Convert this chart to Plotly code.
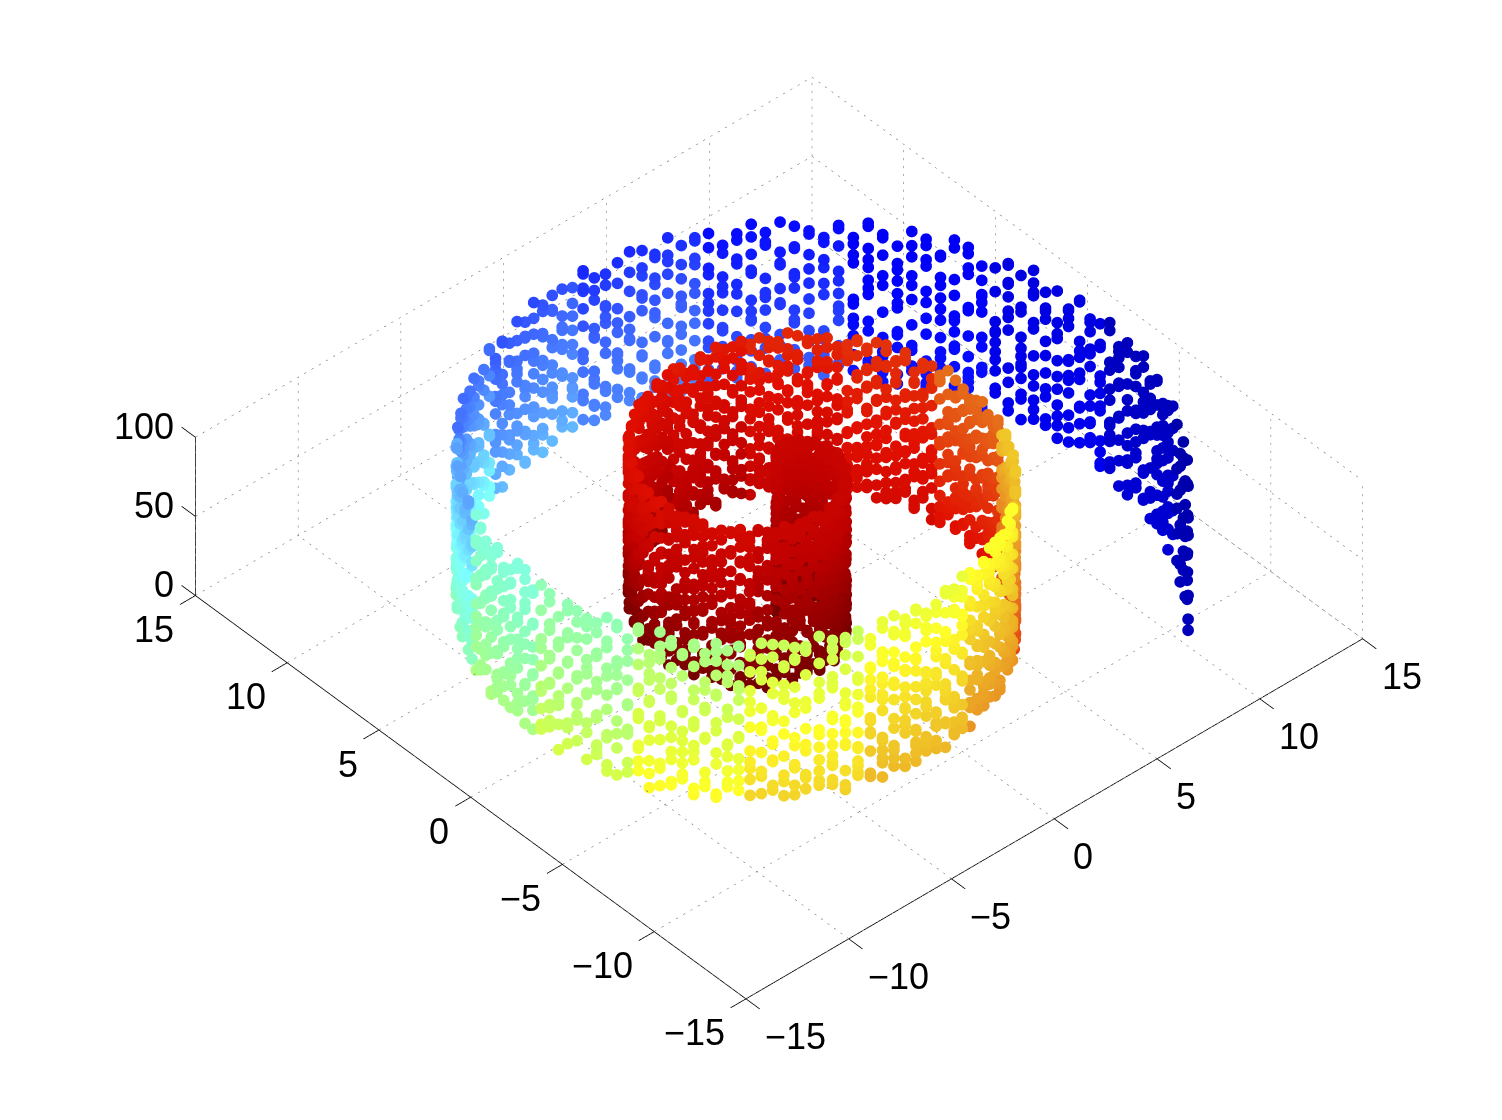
import plotly.graph_objects as go

# Positions of point columns along the roll (inner turn to outer end)
ROLL_X = [
.01,.03,.07,.12,.18,.25,.32,.41,.51,.61,.71,.82,.93,1.03,1.14,1.25,1.34,1.44,1.52,1.59,
1.66,1.71,1.74,1.77,1.77,1.76,1.72,1.67,1.61,1.52,1.41,1.28,1.14,.97,.79,.59,.37,.14,-.11,-.37,
-.64,-.91,-1.2,-1.49,-1.78,-2.07,-2.35,-2.64,-2.91,-3.18,-3.42,-3.66,-3.88,-4.08,-4.26,-4.41,-4.54,-4.64,-4.71,-4.75,
-4.76,-4.73,-4.67,-4.58,-4.45,-4.28,-4.08,-3.85,-3.58,-3.28,-2.95,-2.59,-2.2,-1.78,-1.34,
-1.06,-.77,-.47,-.16,.15,.47,.79,1.11,1.43,1.76,2.08,2.41,2.74,3.06,3.38,3.69,4.0,4.31,4.6,4.89,
5.17,5.45,5.71,5.95,6.19,6.42,6.63,6.82,7.0,7.17,7.32,7.46,7.57,7.66,7.74,7.8,7.84,7.86,7.86,7.83,
7.79,7.73,7.64,7.54,7.42,7.27,7.11,6.92,6.71,6.49,6.24,5.98,5.69,5.39,5.07,4.73,4.38,4.01,3.63,3.24,
2.83,2.41,1.98,1.54,1.08,.62,.17,-.3,-.77,-1.25,-1.73,-2.21,-2.68,-3.16,-3.64,-4.11,-4.57,-5.02,-5.47,-5.91,
-6.25,-6.58,-6.91,-7.23,-7.54,-7.84,-8.13,-8.41,-8.67,-8.92,-9.17,-9.4,-9.62,-9.81,-10.0,-10.17,-10.33,-10.46,-10.59,-10.69,
-10.79,-10.86,-10.92,-10.96,-10.98,-10.98,-10.97,-10.94,-10.89,-10.82,-10.73,-10.63,-10.51,-10.37,-10.21,-10.03,-9.84,-9.63,-9.4,-9.16,
-8.9,-8.62,-8.32,-8.02,-7.69,-7.35,-7.0,-6.63,-6.25,-5.86,-5.45,-5.04,-4.61,-4.16,-3.71,-3.26,-2.79,-2.32,-1.84,-1.35,
-.86,-.36,.14,.64,1.15,1.65,2.16,2.66,3.17,3.67,4.17,4.67,5.16,5.65,6.13,6.6,7.07,7.53,7.98,8.41,
8.84,9.25,9.65,10.04,10.42,10.78,11.13,11.45,11.77,12.06,12.34,12.6,12.84,13.06,13.26,13.44,13.6,13.74,13.86,13.96,
14.03,14.08,14.12,14.12,14.1,14.05,13.99,13.9,13.8,13.67,13.52,13.34,13.14,12.91,12.67,12.4,12.11,11.81,11.47,11.13,
10.74,10.36,10.17]
ROLL_Y = [
.08,.16,.23,.3,.36,.41,.46,.49,.51,.52,.52,.5,.47,.43,.37,.3,.21,.11,-.01,-.14,
-.28,-.43,-.59,-.76,-.93,-1.12,-1.3,-1.49,-1.68,-1.86,-2.04,-2.21,-2.38,-2.54,-2.69,-2.82,-2.94,-3.04,-3.12,-3.18,
-3.22,-3.23,-3.22,-3.19,-3.13,-3.04,-2.93,-2.79,-2.62,-2.42,-2.22,-1.98,-1.71,-1.42,-1.11,-.78,-.44,-.07,.31,.69,
1.09,1.49,1.9,2.29,2.69,3.09,3.47,3.85,4.2,4.54,4.86,5.14,5.41,5.64,5.85,
5.96,6.05,6.13,6.2,6.25,6.28,6.3,6.3,6.29,6.26,6.21,6.15,6.06,5.96,5.85,5.71,5.56,5.39,5.21,5.01,
4.79,4.56,4.31,4.05,3.77,3.48,3.18,2.86,2.53,2.2,1.84,1.48,1.12,.75,.36,-.02,-.42,-.81,-1.22,-1.62,
-2.01,-2.41,-2.82,-3.22,-3.61,-4.0,-4.38,-4.76,-5.13,-5.49,-5.85,-6.18,-6.51,-6.83,-7.13,-7.42,-7.69,-7.95,-8.18,-8.4,
-8.6,-8.77,-8.93,-9.07,-9.19,-9.28,-9.35,-9.4,-9.42,-9.41,-9.39,-9.34,-9.26,-9.17,-9.05,-8.9,-8.73,-8.53,-8.31,-8.07,
-7.85,-7.63,-7.39,-7.13,-6.86,-6.58,-6.29,-5.99,-5.67,-5.34,-5.0,-4.65,-4.28,-3.91,-3.53,-3.13,-2.73,-2.33,-1.92,-1.49,
-1.07,-.64,-.21,.23,.67,1.12,1.56,2.0,2.44,2.89,3.34,3.78,4.21,4.65,5.07,5.5,5.91,6.32,6.73,7.12,
7.51,7.88,8.25,8.61,8.94,9.28,9.6,9.91,10.2,10.48,10.74,10.98,11.21,11.43,11.63,11.8,11.96,12.1,12.22,12.33,
12.41,12.48,12.52,12.54,12.55,12.53,12.49,12.44,12.36,12.26,12.14,12.0,11.85,11.66,11.46,11.24,11.0,10.74,10.46,10.17,
9.85,9.53,9.18,8.81,8.43,8.03,7.61,7.18,6.74,6.28,5.81,5.32,4.83,4.32,3.81,3.28,2.75,2.21,1.66,1.12,
.56,0,-.56,-1.13,-1.7,-2.28,-2.84,-3.41,-3.98,-4.54,-5.08,-5.65,-6.19,-6.73,-7.26,-7.79,-8.29,-8.8,-9.28,-9.77,
-10.22,-10.68,-10.89]

# Colour read at the foot and at the top of the band, one pair for every ten columns (0 = dark blue, 1 = dark red)
COLOR_FOOT = [1,1,1,1,1,1,1,.985,.96,.93,.9,.88,.82,.74,.7,.67,.63,.58,.53,.47,.4,.31,.25,.2,.14,.11,.08,.05]
COLOR_TOP = [.92,.92,.92,.92,.92,.9,.88,.875,.865,.85,.84,.78,.68,.62,.6,.56,.52,.47,.42,.28,.21,.18,.155,.13,.115,.09,.05,.03]

# Heights of the points in each column
HEIGHTS = [
[3,14,27,36,52,61,73,88,99],[7,19,31,44,55,68,79,91,100],[1,12,24,39,47,63,70,84,97],[5,16,29,41,58,66,77,89,98],[9,21,33,46,53,65,81,93,100],
[2,11,25,37,50,62,75,86,96],[6,18,30,43,57,69,78,90,99],[0,13,28,35,49,60,74,85,95],[8,20,32,45,56,67,80,92,100],[4,15,26,40,51,64,72,87,98],
[3,17,23,38,54,59,76,83,97],[10,22,34,42,48,71,82,94,100],[1,14,27,39,55,63,73,88,96],[6,19,30,47,52,68,77,91,99],[2,12,25,36,58,61,79,85,98],
[9,16,31,44,50,66,74,90,100],[5,21,28,41,57,69,82,86,95],[0,11,33,37,53,65,78,93,99],[7,18,24,46,56,62,75,89,97],[3,15,29,43,49,70,81,84,100],
[8,20,35,40,60,67,72,92,98],[1,13,26,38,54,64,80,87,96],[4,17,32,45,51,59,76,91,100],[10,22,27,42,55,71,83,94,97],[2,14,30,36,48,63,77,88,99],
[6,19,25,47,58,68,73,85,95],[0,12,34,39,52,61,79,90,100],[9,16,28,44,56,66,82,86,98],[3,21,31,37,50,69,74,93,96],[5,11,24,43,57,62,78,89,99],
[7,18,33,41,53,65,81,84,100],[1,15,29,46,49,60,75,92,97],[8,20,26,35,59,67,72,87,95],[4,13,32,40,54,70,83,91,99],[2,17,23,45,51,64,76,94,100],
[10,22,30,38,55,63,80,85,98],[6,14,27,42,48,68,77,88,96],
[3,19,31,36,58,61,74,90,100],[0,12,25,44,52,66,79,86,97],[9,16,34,39,56,69,82,93,99],[5,21,28,47,50,62,73,89,95],[1,11,33,41,57,65,78,84,98],
[7,18,24,37,53,71,75,92,100],[4,15,29,43,60,67,81,87,96],[8,20,35,46,49,59,76,91,99],[2,13,26,40,54,64,83,94,97],[10,17,32,45,51,70,72,85,100],
[6,22,27,38,55,63,80,88,95],[0,14,30,42,58,68,77,90,98],[3,19,25,36,48,61,74,86,99],[9,12,34,47,52,66,82,93,96],[5,16,28,39,56,69,79,89,100],
[1,21,31,44,50,62,73,84,97],[7,11,33,41,57,65,78,92,98],[4,18,24,37,53,71,75,87,95],[8,15,29,46,60,67,81,91,99],[2,20,35,43,49,59,76,94,100],
[10,13,26,40,54,64,83,85,96],[6,17,32,45,51,70,72,88,97],[0,22,27,38,55,63,80,90,99],[3,14,30,42,58,68,77,86,100],[9,19,25,36,48,61,74,93,95],
[5,12,34,47,52,66,82,89,98],[1,16,28,39,56,69,79,84,96],[7,21,31,44,50,62,73,92,100],[4,11,33,41,57,65,78,87,97],[8,18,24,37,53,71,75,91,99],
[2,15,29,46,60,67,81,94,95],[10,20,35,43,49,59,76,85,98],[6,13,26,40,54,64,83,88,100],[0,17,32,45,51,70,72,90,96],[3,22,27,38,55,63,80,86,97],
[9,14,30,42,58,68,77,93,99],[5,19,25,36,48,61,74,89,100],
[12,27,41,58,72,93,5],[3,19,36,49,66,84,97],[8,24,44,55,77,90,14],[1,31,47,63,71,88,99],[16,28,39,60,82,95,6],[10,22,52,68,75,91,35],[4,18,43,57,79,86,100],[13,33,50,65,74,96,25],
[7,21,38,54,69,83,92],[2,29,46,61,78,89,15],[11,34,53,67,80,98,23],[6,26,42,59,73,87,17],[0,32,48,64,76,94,20],[9,37,51,62,85,97,30],[5,24,40,56,70,90,13],[18,35,45,60,81,99,3],
[1,27,49,66,77,93,10],[12,22,43,58,72,88,31],[7,16,39,55,83,96,28],[4,36,52,68,75,91,19],[14,25,47,63,79,100,8],[2,33,41,57,69,86,23],[11,30,54,65,74,95,17],[6,20,44,61,82,89,37],
[0,26,50,67,78,97,15],[9,34,46,59,71,92,21],[3,29,38,53,84,90,13],[16,24,42,64,76,98,5],[8,32,56,70,80,94,27],[1,19,48,62,73,87,35],[12,28,40,55,85,99,6],[4,22,51,66,77,91,31],
[10,36,45,60,72,96,18],[7,25,43,57,81,88,2],[14,33,49,68,75,93,23],[0,20,39,54,83,97,29],[5,27,52,63,79,90,11],[13,34,47,58,69,100,17],[3,21,41,65,74,86,37],[9,30,55,61,82,95,24],
[6,16,44,67,78,92,1],[15,28,38,59,71,89,32],[2,23,50,64,85,98,12],[8,35,46,56,76,94,19],[4,26,53,70,80,91,10],[11,31,42,62,73,97,22],[0,18,48,60,84,87,36],[7,29,40,66,77,99,14],
[13,24,51,57,69,93,3],[5,33,45,68,83,90,20],[1,27,54,63,75,96,9],[17,30,39,61,81,88,25],[6,22,49,58,72,100,12],[10,34,43,65,79,92,2],[3,19,52,55,86,97,28],[15,37,47,60,74,89,8],
[0,25,41,67,78,95,21],[9,31,56,62,71,91,16],[4,28,44,70,82,98,11],[12,20,50,59,76,87,33],[7,36,38,64,84,93,1],[2,23,46,53,73,99,18],[14,32,55,66,80,90,26],[5,17,42,61,69,96,10],
[8,29,48,57,85,88,35],[1,24,40,68,77,94,13],[11,34,52,63,75,100,4],[6,21,45,60,83,91,27],[16,30,37,56,72,97,0],[3,26,51,65,79,89,19],[9,33,43,54,81,92,14],[12,22,49,67,74,98,7],
[2,28,39,62,86,95,31],[15,35,47,58,70,90,5],[10,18,53,64,78,99,24],[4,32,41,59,73,87,20],[7,25,50,69,82,93,13],[0,36,44,55,76,96,29],[17,23,46,66,84,91,8],[6,30,38,61,71,100,15],
[43,12,77,29,95,60],[8,54,33,88,21,70],[66,2,41,97,15,83],[25,74,50,9,90,37],[58,18,81,46,99,4],[31,69,13,92,56,24],[85,40,6,72,19,63],[11,94,35,78,52,27],[48,3,65,87,22,98],
[73,16,57,38,91,7],[28,82,44,1,67,96],[53,20,89,34,75,10],[61,5,42,93,26,79],[14,71,47,100,32,86],[39,55,0,84,17,68],[76,23,59,9,97,45],[30,90,12,64,49,83],[2,74,36,95,19,56],
[80,25,6,62,41,99],[15,51,87,33,72,11],[46,93,21,67,4,58],[78,37,13,88,54,26],[8,60,96,43,18,75],[29,69,1,85,50,35],[91,16,57,24,77,40],[10,63,98,31,47,82],[55,22,70,3,89,38],
[17,79,44,94,27,61],[66,7,52,34,100,12],[84,30,19,73,48,92],[39,58,5,86,23,68],[76,14,45,97,32,9],[53,81,26,62,0,90],[20,71,41,87,11,56],[95,36,65,6,49,78],[28,83,16,59,99,43],
[3,74,33,91,21,64],[51,13,80,38,96,25],[69,47,8,88,18,57],[31,93,60,2,75,42],[85,24,54,15,98,35],[10,67,40,82,29,72],[50,4,94,22,63,78],[37,89,12,56,100,27],[70,19,46,83,6,61],
[92,34,1,74,52,16],[44,86,28,66,9,97],[23,58,79,39,13,90],[5,71,48,95,32,62],[81,17,55,26,99,41],[36,68,11,87,47,7],[60,93,20,76,3,53],[14,42,84,30,73,96],[65,25,50,89,10,38],
[78,0,57,33,91,18],[45,98,22,69,12,82],[29,61,6,85,40,75],[54,15,94,35,67,2],[88,27,49,8,77,43],[19,72,59,97,31,64],[37,83,4,52,23,92],[11,68,46,100,28,80],[56,16,90,39,74,1],
[63,34,21,86,47,96],[9,79,41,58,13,70],[30,93,5,66,51,24],[87,18,76,44,98,36],[2,60,28,84,55,12],[71,48,91,20,64,7],[33,82,15,57,38,95],[25,99,50,74,10,43],[67,4,86,31,59,17],
[52,77,22,92,40,8],[13,65,35,89,46,100],[81,27,56,1,72,37],[19,94,42,61,6,83],[75,11,53,29,97,48],[34,68,16,88,24,58],[90,3,45,78,14,62],[26,70,99,39,51,9],[55,85,20,33,93,44],
[12,47,73,5,80,28],[64,96,37,18,57,83],[41,8,69,91,23,50],[75,30,2,60,86,15],[97,43,54,21,68,10],[35,79,26,90,6,48],[59,13,84,38,72,100],[17,62,45,94,29,1],[77,32,52,7,88,66],
[24,99,40,11,71,56],[83,19,63,46,3,92],[36,74,14,87,27,54],[5,49,95,31,65,20],[58,81,9,42,98,16],[70,25,38,89,0,60],[12,91,51,76,33,44],[85,22,67,4,55,96],[28,73,15,47,93,37],
[6,63,84,34,100,18],[50,29,78,10,59,90],[41,95,23,68,2,75],[13,56,88,35,46,82],[66,8,31,97,20,52],[89,43,72,16,61,26],[3,80,38,93,49,12],[57,24,99,69,7,36],[44,86,17,64,30,76],
[21,54,91,1,71,40],[94,33,11,83,48,60],[9,67,28,77,53,100],
[35,72,16,58,90,3],[47,81,24,62,6,97],[13,68,39,88,52,20],[76,2,44,93,29,60],[18,55,85,33,71,99],[41,8,66,25,94,50],[82,37,12,59,1,74],[27,96,48,15,69,86],[63,5,31,91,43,78],[10,53,83,22,98,38],[70,19,46,89,34,57],[4,64,26,95,75,11]]

# Further heights for the columns from the inner wall outward
MORE_HEIGHTS = [
[23,67,8,91,44,15,78,33,56],[71,29,94,6,50,38,83,17,62],[12,59,87,35,4,76,47,98,26],[65,20,41,92,9,54,80,31,72],[37,85,13,60,96,27,49,2,74],
[90,18,56,7,43,69,34,81,24],[48,77,10,63,99,30,15,86,52],[5,38,70,22,94,57,42,12,83],[61,26,91,46,3,75,33,19,67],[79,14,53,87,36,8,60,95,28],
[41,72,20,97,55,11,84,32,66],[16,49,88,6,74,39,93,25,58],[82,30,64,13,45,100,21,70,37],[54,9,77,34,89,18,61,2,43],[26,95,47,68,15,80,52,33,7],
[73,40,11,86,59,23,98,36,64],[19,56,92,29,4,71,46,83,12],[67,35,78,8,50,94,24,60,39],[44,14,85,31,97,62,17,75,53],[3,69,27,90,42,10,81,56,34],
[58,88,22,47,72,6,37,99,15],[93,32,65,13,51,76,28,84,41],[20,61,9,79,43,95,55,25,70],[38,86,17,54,2,67,31,91,48],[74,12,45,96,27,59,83,7,36],
[50,23,89,64,34,11,77,42,98],[16,71,39,5,92,56,29,85,62],[80,47,13,68,33,100,21,52,8],[28,94,58,37,75,18,44,87,3],[63,10,82,25,49,90,35,66,14],
[41,97,30,72,6,55,84,19,60],[11,53,76,40,88,24,67,32,93],[86,35,2,62,46,15,78,99,27],[57,21,91,9,70,38,51,83,13],[33,74,44,96,18,65,4,59,87],
[7,48,81,26,63,92,36,12,69],[95,17,54,39,77,29,85,43,1],[68,31,10,89,52,22,73,46,97],
[28,64,9,85,41,73,17,56,94,33],[76,2,50,21,91,37,68,12,83],[44,97,14,60,30,79,6,53,25],[88,39,71,18,47,3,62,95,34],[10,57,26,82,65,23,99,42,75],
[51,16,93,36,7,69,29,87,58],[20,78,45,98,11,61,32,84,4],[67,38,15,90,54,27,74,48,9],[92,24,59,1,80,35,64,13,46],[30,72,5,86,43,19,96,55,37],
[63,12,49,77,28,94,8,70,40],[17,83,33,56,100,22,66,44,2],[75,47,10,89,60,31,15,91,52],[6,38,68,25,97,53,79,20,42],[85,14,58,35,71,3,62,28,93],
[49,74,19,96,41,11,81,55,30],[23,66,88,7,52,36,99,16,77],[92,43,13,61,29,73,4,47,84],[34,59,21,95,69,10,39,80,18],[56,1,76,45,86,26,64,33,90],
[12,71,37,54,8,98,24,83,48],[67,31,93,16,62,42,75,5,27],[89,50,20,78,35,13,57,96,40],[3,44,82,29,68,91,15,60,36],[72,25,55,10,87,47,2,79,33],
[18,94,39,65,23,51,85,7,58],[43,13,74,30,97,61,28,88,11],[81,54,6,69,38,16,92,46,21],[26,63,99,34,75,9,50,84,41],[57,19,86,2,45,71,31,95,66],
[37,90,14,60,24,78,52,8,83],[70,28,47,93,12,56,35,98,17],[4,65,82,40,73,22,88,49,30],[53,11,77,36,96,61,15,68,25],[32,89,44,7,58,84,20,72,43],
[94,18,63,27,50,1,79,38,91],[13,55,85,33,66,100,42,9,74],[76,29,46,97,16,59,23,87,5],[40,70,10,81,35,92,54,19,64],[24,48,90,3,62,77,31,56,86],
[60,15,73,39,95,28,83,45,8],[34,88,21,52,11,68,98,37,75],[6,43,79,26,91,57,17,65,49],[82,30,13,71,47,2,86,58,22],[99,36,54,19,76,41,63,10,93],
[27,67,4,85,33,51,94,14,72],[46,20,89,60,8,78,38,97,29],[55,74,12,42,96,25,69,3,83],[16,35,91,64,23,80,50,7,44],[71,9,57,28,87,39,100,18,62],
[32,84,47,1,73,56,21,93,37],[65,13,78,41,98,26,52,88,5],[20,59,34,90,11,70,44,76,30],[83,48,6,63,22,95,36,15,68],[2,75,53,29,86,40,61,92,17],
[58,24,81,12,45,67,33,96,9],[38,72,19,99,51,4,84,27,64],[90,43,15,60,31,77,8,55,25],[11,69,87,36,74,21,49,94,42],[52,3,28,82,16,63,39,79,97],
[35,93,57,10,46,71,23,86,61],[77,18,66,41,100,29,6,54,85],[44,88,13,33,75,50,95,20,68],[7,60,26,92,38,83,14,47,72],[62,30,80,1,56,24,98,42,16],
[87,37,51,19,69,9,76,34,91],[22,64,96,45,12,58,28,81,4],[73,40,15,85,31,53,67,99,35],[49,8,79,25,94,17,61,43,70],[27,90,55,36,5,83,48,11,74],
[66,21,41,89,14,97,32,59,2],[84,52,7,71,38,23,63,92,46],[18,35,77,10,56,88,29,68,100],[60,95,26,43,80,1,50,13,74],[31,6,65,87,20,54,39,91,72],
[47,82,16,58,34,98,24,9,67],[3,76,42,93,28,61,12,85,53],[69,19,37,90,48,5,73,30,96],
[22,64,9,83,41,71],[56,14,92,33,77,5],[38,87,19,60,2,95],[72,27,49,11,84,63],[6,53,98,35,67,24],[89,15,44,76,30,58],[20,62,3,91,46,81],[51,97,26,70,12,39],[85,8,57,34,74,18],
[43,66,1,93,29,78],[16,55,86,37,10,68],[94,23,47,61,5,32],[75,40,13,88,52,27],[7,69,35,96,59,21],[83,44,17,64,3,91],[30,72,54,9,79,38],[61,15,99,42,25,86],[48,6,76,33,90,12],
[65,28,57,97,19,71],[2,84,41,23,67,50],[93,35,10,74,56,16],[45,80,27,62,4,88],[13,52,95,36,70,29],[78,21,43,8,59,92],[31,66,85,17,49,1],[96,39,12,73,55,26],[58,7,82,34,64,20],
[24,91,47,15,69,37],[75,3,53,86,28,100],[10,63,40,97,18,46],[83,25,68,5,56,33],[42,89,14,77,60,22],[6,51,94,30,71,17],[65,36,2,87,44,79],[27,58,92,11,38,74],[84,19,48,66,9,96],
[35,70,23,55,1,81],[13,62,88,41,76,29],[98,4,50,32,67,16],[59,85,21,45,8,72],[37,93,11,63,26,54],[78,17,43,90,3,68],[24,56,83,34,99,10],[47,69,6,75,20,91],[31,86,52,14,60,39],
[95,25,72,2,44,57],[12,65,36,89,18,80],[51,7,97,28,73,41],[84,33,61,15,49,22],[4,77,42,92,55,30],[68,19,87,38,10,63],[26,54,1,79,46,94],[71,35,13,58,83,23],[40,96,66,9,29,52],
[17,74,48,86,5,62],[91,32,20,56,78,37],[44,69,11,99,27,6],[81,15,53,35,64,88],[24,60,93,42,2,73],[57,8,30,76,49,18],[97,39,67,13,85,28],[3,50,82,21,71,45],[63,34,90,16,55,7],
[76,26,47,94,12,59],[38,87,4,68,31,52],[19,72,43,96,9,61],[83,29,57,14,75,36],[6,65,22,89,48,100],[54,11,78,33,92,25],[41,70,2,60,17,84],[95,37,51,28,66,10],[23,74,86,44,5,58],
[69,16,39,97,30,81],[12,55,73,20,63,90],[46,1,85,34,77,27],[93,42,18,61,8,54],[31,79,50,14,96,67],[25,88,3,71,40,59],[62,10,47,83,22,36],[75,56,29,94,15,7],[38,68,91,44,19,80],
[52,4,64,26,87,33],[99,21,72,48,11,57],[15,43,82,35,66,6],[78,30,60,13,93,41],[2,53,25,89,70,18],[46,84,37,9,62,95],[28,74,16,51,86,39],[64,12,98,32,55,77],[20,45,7,81,68,92],
[58,34,73,1,49,24],[90,14,40,65,27,83],[11,79,56,96,36,5],[69,23,47,88,17,61],[33,100,8,52,75,42],[85,19,60,29,94,13],[3,71,44,66,22,80],[57,38,91,15,50,26],[76,9,31,84,63,97],
[42,54,18,70,2,35],[92,27,67,46,12,86],[6,59,39,80,24,73],[51,95,16,33,65,10],[87,43,21,77,55,4],[30,62,98,8,48,72],[13,36,83,25,69,91],[56,78,5,41,19,60],[94,28,50,74,34,11],
[17,66,89,1,45,82],[61,32,7,54,97,23],[40,85,75,14,58,30],[71,10,48,93,26,64],[35,79,20,56,3,88],[96,44,12,67,37,52],[8,81,29,60,18,74],[49,25,90,39,70,15]]

TICKS = [-15, -10, -5, 0, 5, 10, 15]
TICK_TEXT = ['\u221215', '\u221210', '\u22125', '0', '5', '10', '15']
Z_TICKS = [0, 50, 100]
Z_TEXT = ['0', '50', '100']
TICK_DEPTH = 0.75

PALETTE = [[0, 'rgb(0,0,143)'], [.125, 'rgb(0,0,255)'], [.2, 'rgb(60,100,255)'], [.28, 'rgb(90,160,255)'],
           [.375, 'rgb(125,255,255)'], [.45, 'rgb(135,255,200)'], [.52, 'rgb(165,255,140)'], [.58, 'rgb(215,255,70)'],
           [.625, 'rgb(255,255,40)'], [.68, 'rgb(240,200,40)'], [.75, 'rgb(232,140,35)'], [.82, 'rgb(228,70,15)'],
           [.875, 'rgb(225,15,0)'], [.94, 'rgb(190,0,0)'], [1, 'rgb(115,0,0)']]

px, py, pz, pc = [], [], [], []
FIRST_MORE = 37
for i, (cx, cy, hs) in enumerate(zip(ROLL_X, ROLL_Y, HEIGHTS)):
    foot = COLOR_FOOT[i // 10]
    top = COLOR_TOP[i // 10]
    extra = MORE_HEIGHTS[i - FIRST_MORE] if FIRST_MORE <= i < FIRST_MORE + len(MORE_HEIGHTS) else []
    for h in hs + extra:
        px.append(cx); py.append(cy); pz.append(h)
        pc.append(foot + (top - foot) * h / 100)

def dotted(a, b, n, store):
    for k in range(n):
        f0 = k / n
        f1 = f0 + 0.28 / n
        for f in (f0, f1):
            store[0].append(a[0] + (b[0] - a[0]) * f)
            store[1].append(a[1] + (b[1] - a[1]) * f)
            store[2].append(a[2] + (b[2] - a[2]) * f)
        for s in store:
            s.append(None)

grid = ([], [], [])
for v in TICKS:
    dotted((v, -15, 0), (v, 15, 0), 85, grid)
    dotted((-15, v, 0), (15, v, 0), 85, grid)
    dotted((v, 15, 0), (v, 15, 100), 20, grid)
    dotted((15, v, 0), (15, v, 100), 20, grid)
for h in Z_TICKS:
    dotted((-15, 15, h), (15, 15, h), 85, grid)
    dotted((15, 15, h), (15, -15, h), 85, grid)

ax_x, ax_y, ax_z = [-15, 15, None, -15, -15, None, -15, -15], [-15, -15, None, -15, 15, None, 15, 15], [0, 0, None, 0, 0, None, 0, 100]
for v in TICKS:
    ax_x += [None, v, v, None, -15, -15 - TICK_DEPTH]
    ax_y += [None, -15, -15 - TICK_DEPTH, None, v, v]
    ax_z += [None, 0, 0, None, 0, 0]
for h in Z_TICKS:
    ax_x += [None, -15, -15]
    ax_y += [None, 15, 15 + TICK_DEPTH]
    ax_z += [None, h, h]

fig = go.Figure()
fig.add_trace(go.Scatter3d(x=grid[0], y=grid[1], z=grid[2], mode='lines', line=dict(color='rgb(95,95,95)', width=1), hoverinfo='skip', showlegend=False))
fig.add_trace(go.Scatter3d(x=ax_x, y=ax_y, z=ax_z, mode='lines', line=dict(color='black', width=1.6), hoverinfo='skip', showlegend=False))
fig.add_trace(go.Scatter3d(x=px, y=py, z=pz, mode='markers', marker=dict(size=6.8, color=pc, colorscale=PALETTE, cmin=0, cmax=1, line=dict(width=0)), showlegend=False))

font = dict(family='Liberation Sans', size=36, color='black')
ann = []
for v, s in zip(TICKS, TICK_TEXT):
    ann.append(dict(x=v, y=-15, z=0, text=s, showarrow=False, xanchor='left', yanchor='middle', xshift=17, yshift=-38, font=font))
    ann.append(dict(x=-15, y=v, z=0, text=s, showarrow=False, xanchor='right', yanchor='middle', xshift=-19, yshift=-34, font=font))
for h, s in zip(Z_TICKS, Z_TEXT):
    ann.append(dict(x=-15, y=15, z=h, text=s, showarrow=False, xanchor='right', yanchor='middle', xshift=-19, yshift=11, font=font))

hidden = dict(showbackground=False, showgrid=False, zeroline=False, showline=False, ticks='', showticklabels=False, title='', showspikes=False)
fig.update_layout(width=1502, height=1120, margin=dict(l=0, r=0, t=0, b=0), paper_bgcolor='white', showlegend=False,
    scene=dict(domain=dict(x=[0.037, 1], y=[0.0392, 1]), aspectmode='manual', aspectratio=dict(x=1.639, y=1.639, z=.389),
        camera=dict(projection=dict(type='orthographic'), eye=dict(x=-1.516, y=-1.698, z=1.968), up=dict(x=0, y=0, z=1)),
        xaxis=dict(hidden, range=[-16, 16]), yaxis=dict(hidden, range=[-16, 16]), zaxis=dict(hidden, range=[0, 100]),
        annotations=ann))
fig.write_html('out.html', config=dict(displayModeBar=False), post_script="document.body.style.margin='0';")
